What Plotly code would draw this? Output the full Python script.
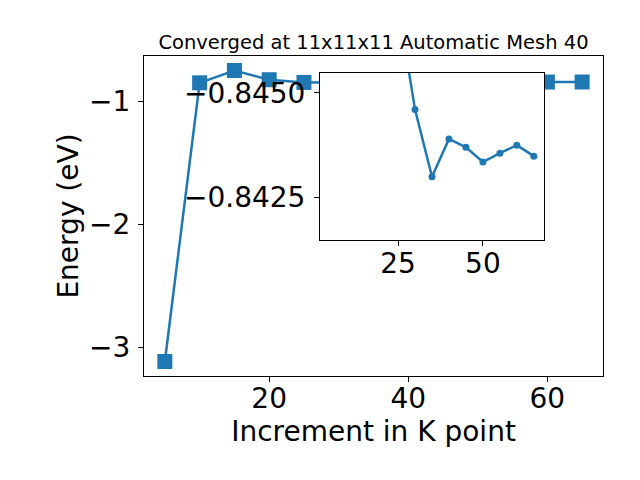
import plotly.graph_objects as go

# k-point convergence data
k_points = [5, 10, 15, 20, 25, 30, 35, 40, 45, 50, 55, 60, 65]
energy = [-3.117, -0.850, -0.750, -0.825, -0.8471, -0.8446, -0.8430, -0.8439,
          -0.8437, -0.84335, -0.84356, -0.84375, -0.84349]
# the inset zooms in on the converged tail
inset_k = k_points[4:]
inset_energy = energy[4:]

main_xticks = [20, 40, 60]
main_yticks = [-1, -2, -3]
inset_xticks = [25, 50]
inset_yticks = [-0.8450, -0.8425]

blue = "#1f77b4"
font = "DejaVu Sans"

# page body has an 8px margin, so work in window pixels and convert
W, H, OFF = 632, 472, 8


def fx(px):
    return (px - OFF) / W


def fy(py):
    return 1 - (py - OFF) / H


fig = go.Figure()
fig.add_trace(go.Scatter(
    x=k_points, y=energy, mode="lines+markers",
    line=dict(color=blue, width=2.5),
    marker=dict(symbol="square", size=15, color=blue),
    xaxis="x", yaxis="y", showlegend=False,
))
fig.add_trace(go.Scatter(
    x=inset_k, y=inset_energy, mode="lines+markers",
    line=dict(color=blue, width=2.5),
    marker=dict(symbol="circle", size=7, color=blue),
    xaxis="x2", yaxis="y2", showlegend=False,
))

axis_common = dict(
    showline=True, linecolor="black", linewidth=1, mirror=True,
    ticks="outside", ticklen=5, tickcolor="black",
    showgrid=False, zeroline=False,
    tickfont=dict(family=font, size=28, color="black"),
)

fig.update_layout(
    width=W, height=H,
    margin=dict(l=0, r=0, t=0, b=0),
    paper_bgcolor="white", plot_bgcolor="white",
    font=dict(family=font, color="black"),
    title=dict(
        text="Converged at 11x11x11 Automatic Mesh 40",
        x=fx(373.5), xanchor="center", y=fy(42), yanchor="middle",
        font=dict(family=font, size=19.5, color="black"),
    ),
    xaxis=dict(
        domain=[fx(144), fx(603)], range=[2, 68],
        tickvals=main_xticks, ticklabelstandoff=-8,
        title=dict(text="Increment in K point", font=dict(family=font, size=28), standoff=4),
        **axis_common,
    ),
    yaxis=dict(
        domain=[fy(376), fy(56)], range=[-3.235, -0.632],
        tickvals=main_yticks, ticklabelstandoff=2,
        title=dict(text="Energy (eV)", font=dict(family=font, size=28), standoff=2),
        **axis_common,
    ),
    xaxis2=dict(
        domain=[fx(320), fx(544)], range=[2, 68], anchor="y2",
        tickvals=inset_xticks, ticklabelstandoff=-7,
        **axis_common,
    ),
    yaxis2=dict(
        domain=[fy(240), fy(72.7)], range=[-0.84149, -0.84548],
        anchor="x2", tickvals=inset_yticks, tickformat=".4f", ticklabelstandoff=3,
        **axis_common,
    ),
)

fig.write_html("out.html")
